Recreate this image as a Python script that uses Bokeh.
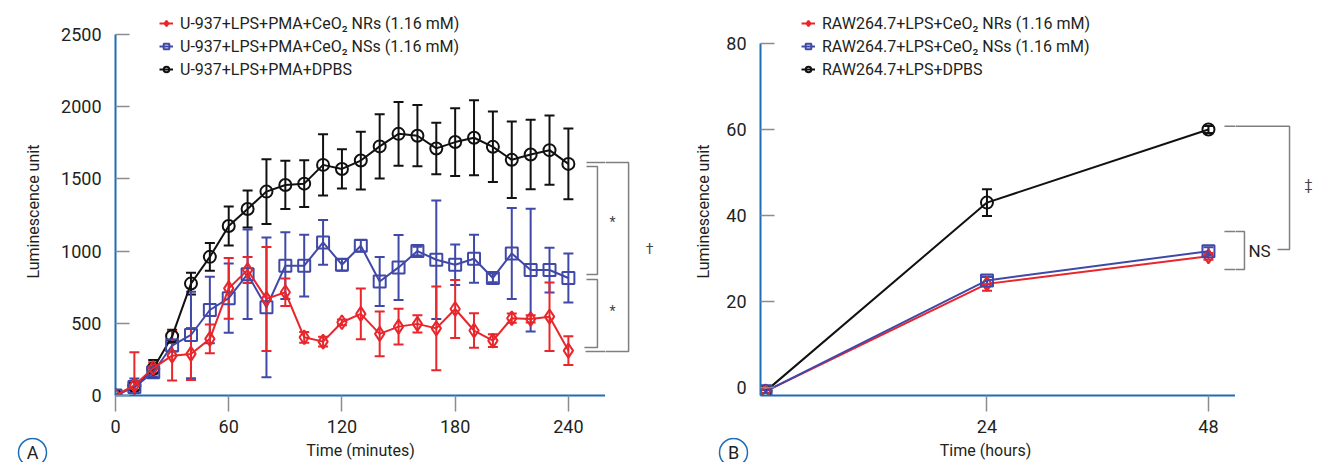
from bokeh.plotting import figure
from bokeh.models import (Range1d, FixedTicker, Whisker, ColumnDataSource, Legend,
                          LegendItem, TeeHead, Title)
from bokeh.layouts import row, column
from bokeh.embed import file_html
from bokeh.resources import INLINE
from bokeh.core.properties import value

FONT = "Roboto"
RED = "#e8262b"
BLUE = "#4048a8"
BLACK = "#111111"
AXIS_BLUE = "#1f6db4"
TICK_GRAY = "#8c8c8c"
BRACKET = "#7f7f7f"
TEXT = "#231f20"

# ---------------- Panel A data ----------------
time_min = [0, 10, 20, 30, 40, 50, 60, 70, 80, 90, 100, 110, 120, 130, 140, 150,
            160, 170, 180, 190, 200, 210, 220, 230, 240]
nr_a = [0, 70, 190, 276, 288, 392, 742, 869, 669, 715, 403, 373, 507, 565, 427, 477,
        496, 465, 599, 450, 380, 535, 530, 546, 311]
nr_a_err = [10, 230, 40, 172, 180, 100, 210, 90, 360, 96, 37, 33, 20, 176, 155, 124,
            60, 290, 200, 120, 44, 32, 25, 237, 100]
ns_a = [0, 58, 161, 346, 419, 592, 674, 840, 611, 899, 899, 1060, 906, 1037, 789, 887,
        1000, 940, 906, 947, 814, 984, 869, 869, 814]
ns_a_err = [10, 60, 30, 40, 300, 230, 240, 310, 484, 231, 214, 155, 40, 40, 170, 225,
            30, 410, 140, 166, 30, 315, 425, 155, 170]
dpbs_a = [0, 65, 185, 410, 775, 960, 1174, 1292, 1412, 1458, 1467, 1597, 1569, 1627, 1725,
          1812, 1799, 1711, 1755, 1785, 1722, 1632, 1669, 1699, 1604]
dpbs_a_err = [10, 30, 60, 45, 75, 96, 135, 128, 224, 167, 162, 212, 136, 200, 222, 221,
              212, 178, 235, 260, 244, 265, 241, 240, 245]
labels_a = ["U-937+LPS+PMA+CeO\u2082 NRs (1.16 mM)",
            "U-937+LPS+PMA+CeO\u2082 NSs (1.16 mM)",
            "U-937+LPS+PMA+DPBS"]
xticks_a = [0, 60, 120, 180, 240]
yticks_a = [0, 500, 1000, 1500, 2000, 2500]

# ---------------- Panel B data ----------------
time_h = [0, 24, 48]
nr_b = [-0.9, 24.1, 30.5]
nr_b_err = [0.4, 1.6, 0.8]
ns_b = [-0.9, 24.9, 31.7]
ns_b_err = [0.4, 0.9, 0.9]
dpbs_b = [-0.9, 43.0, 60.0]
dpbs_b_err = [0.4, 3.1, 0.8]
labels_b = ["RAW264.7+LPS+CeO\u2082 NRs (1.16 mM)",
            "RAW264.7+LPS+CeO\u2082 NSs (1.16 mM)",
            "RAW264.7+LPS+DPBS"]
xticks_b = [24, 48]
yticks_b = [0, 20, 40, 60, 80]

# significance brackets (annotation positions, data units)
brk_a_xs = [[249.6, 271.9, 271.9, 249.1], [249.6, 255.4, 255.4, 249.6], [249.6, 255.4, 255.4, 248.5]]
brk_a_ys = [[1613, 1613, 304.6, 304.6], [1585, 1585, 837.7, 837.7], [803, 803, 332, 332]]
sig_a_x = [263.4, 263.4, 283.0]
sig_a_y = [1204.6, 583.6, 1017.7]
sig_a_txt = ["*", "*", "\u2020"]
brk_b_xs = [[49.73, 56.78, 56.78, 55.48], [49.73, 51.9, 51.9, 49.73]]
brk_b_ys = [[60.77, 60.77, 32.09, 32.09], [36.28, 36.28, 27.44, 27.44]]

H = 437          # main row height
STRIP_H = 25     # bottom strip (axis titles, panel badges)
TOP = 8
BOTTOM = H - 395


def base_fig(width, xr, yr, bl, br):
    p = figure(width=width, height=H, x_range=xr, y_range=yr,
               output_backend="svg", toolbar_location=None,
               min_border_left=bl, min_border_right=br,
               min_border_top=TOP, min_border_bottom=BOTTOM)
    p.outline_line_color = None
    p.xgrid.visible = False
    p.ygrid.visible = False
    p.background_fill_color = "white"
    p.border_fill_color = "white"
    return p


def style_axes(p):
    for ax in (p.xaxis[0], p.yaxis[0]):
        ax.axis_line_color = AXIS_BLUE
        ax.axis_line_width = 2
        ax.major_tick_line_color = TICK_GRAY
        ax.major_tick_line_width = 1.5
        ax.minor_tick_line_color = None
        ax.major_label_text_font = FONT
        ax.major_label_text_font_size = "18px"
        ax.major_label_text_color = TEXT
    p.yaxis.major_tick_in = 14
    p.yaxis.major_tick_out = 0
    p.yaxis.major_label_standoff = 14
    p.xaxis.major_tick_in = 0
    p.xaxis.major_tick_out = 16
    p.xaxis.major_label_standoff = 8


def hide_axes(p):
    p.xaxis.visible = False
    p.yaxis.visible = False


def add_series(p, x, y, err, color, marker, size):
    lo = [v - e for v, e in zip(y, err)]
    hi = [v + e for v, e in zip(y, err)]
    src = ColumnDataSource(dict(x=x, y=y, lo=lo, hi=hi))
    w = Whisker(base="x", upper="hi", lower="lo", source=src, line_color=color, line_width=2,
                upper_head=TeeHead(size=10, line_color=color, line_width=2),
                lower_head=TeeHead(size=10, line_color=color, line_width=2))
    p.add_layout(w)
    lr = p.line("x", "y", source=src, line_color=color, line_width=2)
    mr = p.scatter("x", "y", source=src, marker=marker, size=size, line_color=color,
                   fill_color=None, line_width=2)
    return [lr, mr]


def add_legend(p, items, vx, vy):
    leg = Legend(items=items, location=(vx, vy), orientation="vertical",
                 glyph_width=14, glyph_height=22, label_height=22, spacing=1,
                 padding=0, margin=0, label_standoff=7,
                 border_line_color=None, background_fill_alpha=0,
                 label_text_font=FONT, label_text_font_size="16px",
                 label_text_color=TEXT)
    p.add_layout(leg)


def ytitle(p, s, offset, standoff):
    p.add_layout(Title(text=s, align="left", offset=offset, standoff=standoff,
                       vertical_align="bottom", text_font=FONT, text_font_size="16px",
                       text_font_style="normal", text_color=TEXT), "left")


# ================= Panel A =================
yA = Range1d(0, 2680)
pA = base_fig(605, Range1d(0, 259.67), yA, 115, 0)
style_axes(pA)
pA.yaxis.bounds = (0, 2500)
pA.yaxis.ticker = FixedTicker(ticks=yticks_a)
pA.xaxis.ticker = FixedTicker(ticks=xticks_a)

rk = add_series(pA, time_min, dpbs_a, dpbs_a_err, BLACK, "circle", 12)
rb = add_series(pA, time_min, ns_a, ns_a_err, BLUE, "square", 12)
rr = add_series(pA, time_min, nr_a, nr_a_err, RED, "diamond", 14)
add_legend(pA, [LegendItem(label=labels_a[0], renderers=rr),
                LegendItem(label=labels_a[1], renderers=rb),
                LegendItem(label=labels_a[2], renderers=rk)], 44, 315)
pA.multi_line(brk_a_xs, brk_a_ys, line_color=BRACKET, line_width=1.5)
ytitle(pA, "Luminescence unit", 117, 32)

# bracket continuation to the right of panel A's axes
pA2 = base_fig(75, Range1d(259.67, 299.4), yA, 0, 0)
hide_axes(pA2)
pA2.multi_line(brk_a_xs, brk_a_ys, line_color=BRACKET, line_width=1.5)
pA2.text(x=sig_a_x, y=sig_a_y, text=sig_a_txt,
         text_font=value(FONT), text_font_size="14px", text_color="#444444",
         text_align="center", text_baseline="middle")

# ================= Panel B =================
yB = Range1d(-1.86, 88.14)
pB = base_fig(555, Range1d(-0.54, 50.93), yB, 80, 0)
style_axes(pB)
pB.yaxis.bounds = (-1.86, 80)
pB.yaxis.ticker = FixedTicker(ticks=yticks_b)
pB.xaxis.ticker = FixedTicker(ticks=xticks_b)

rk2 = add_series(pB, time_h, dpbs_b, dpbs_b_err, BLACK, "circle", 12)
rr2 = add_series(pB, time_h, nr_b, nr_b_err, RED, "diamond", 14)
rb2 = add_series(pB, time_h, ns_b, ns_b_err, BLUE, "square", 12)
add_legend(pB, [LegendItem(label=labels_b[0], renderers=rr2),
                LegendItem(label=labels_b[1], renderers=rb2),
                LegendItem(label=labels_b[2], renderers=rk2)], 41, 315)
pB.multi_line(brk_b_xs, brk_b_ys, line_color=BRACKET, line_width=1.5)
ytitle(pB, "Luminescence unit", 117, 21)

pB2 = base_fig(81, Range1d(50.93, 59.70), yB, 0, 0)
hide_axes(pB2)
pB2.multi_line(brk_b_xs, brk_b_ys, line_color=BRACKET, line_width=1.5)
pB2.text(x=[52.33], y=[31.7], text=["NS"], text_font=value(FONT), text_font_size="17px",
         text_color=TEXT, text_align="left", text_baseline="middle")
pB2.text(x=[58.84], y=[47.0], text=["\u2021"], text_font=value(FONT), text_font_size="14px",
         text_color="#444444", text_align="center", text_baseline="middle")

# ================= bottom strip: x-axis titles and panel badges =================
W_TOTAL = 605 + 75 + 555 + 81
strip = figure(width=W_TOTAL, height=STRIP_H, x_range=Range1d(0, W_TOTAL),
               y_range=Range1d(H + STRIP_H, H), output_backend="svg",
               toolbar_location=None, min_border=0)
strip.axis.visible = False
strip.grid.visible = False
strip.outline_line_color = None
xtitle_txt = ["Time (minutes)", "Time (hours)"]
strip.text(x=[360, 985], y=[450, 450], text=xtitle_txt, text_font=value(FONT),
           text_font_size="16px", text_color=TEXT, text_align="center",
           text_baseline="middle")
badge_txt = ["A", "B"]
strip.scatter(x=[32, 733], y=[452, 452], marker="circle", size=28,
              line_color=AXIS_BLUE, line_width=1.5, fill_color=None)
strip.text(x=[32, 733], y=[452, 452], text=badge_txt, text_font=value(FONT),
           text_font_size="18px", text_color=TEXT, text_align="center",
           text_baseline="middle")

layout = column(row(pA, pA2, pB, pB2), strip)
open("out.html", "w").write(file_html(layout, INLINE))
